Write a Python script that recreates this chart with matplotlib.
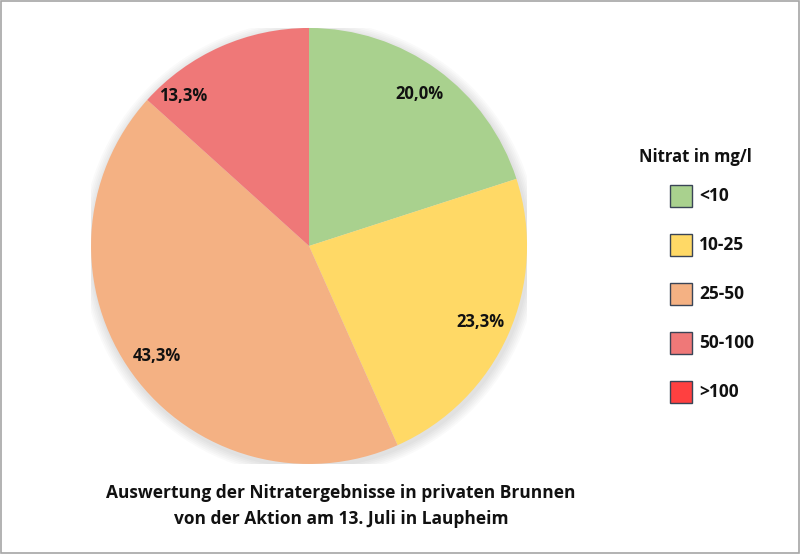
import numpy as np
import matplotlib
matplotlib.use('agg')
import matplotlib.pyplot as plt
from matplotlib.patches import Patch, Circle, Rectangle

plt.rcParams['font.family'] = ['Open Sans', 'DejaVu Sans']

# data
categories = ['<10', '10-25', '25-50', '50-100', '>100']
shares = [20.0, 23.3, 43.3, 13.3, 0.0]
colors = ['#A9D18E', '#FFD966', '#F4B183', '#EF7878', '#FF4040']
title = 'Auswertung der Nitratergebnisse in privaten Brunnen\nvon der Aktion am 13. Juli in Laupheim'
legend_title = 'Nitrat in mg/l'

fig = plt.figure(figsize=(8.0, 5.54), dpi=100)
ax = fig.add_axes([0.1138, 0.1625, 0.545, 0.787])

# soft shadow behind the pie
for k in range(6):
    ax.add_patch(Circle((0.006, -0.012), 1.0 + 0.008 * (k + 1), color='k',
                        alpha=0.018, lw=0, zorder=0))

vals = [v for v in shares if v > 0]
cols = [c for v, c in zip(shares, colors) if v > 0]
wedges, texts, autotexts = ax.pie(vals, colors=cols, startangle=90, counterclock=False,
                                  autopct=lambda p: ('%.1f%%' % p).replace('.', ','),
                                  pctdistance=0.86, radius=1.0,
                                  wedgeprops=dict(linewidth=0),
                                  textprops=dict(fontsize=12, fontweight='bold', color='#111111'))
for w in wedges:
    w.set_zorder(2)
for t in autotexts:
    t.set_zorder(3)

# small slice label sits off-centre (best fit), like the original
w = wedges[-1]
ang = np.deg2rad((w.theta1 + w.theta2) / 2 + 16)
autotexts[-1].set_position((0.90 * np.cos(ang), 0.90 * np.sin(ang)))

ax.set_xlim(-1.0, 1.0)
ax.set_ylim(-1.0, 1.0)
ax.set_aspect('equal')
ax.axis('off')

handles = [Patch(facecolor=c, edgecolor='#3A4456', linewidth=1.0) for c in colors]
leg = fig.legend(handles, categories, loc='upper left', bbox_to_anchor=(0.818, 0.695),
                 frameon=False, handlelength=1.27, handleheight=1.57,
                 labelspacing=1.56, handletextpad=0.4, borderpad=0.4,
                 prop=dict(size=12.5, weight='bold'))
for t in leg.get_texts():
    t.set_color('#111111')

fig.text(0.869, 0.717, legend_title, ha='center', va='center', fontsize=12,
         fontweight='bold', color='#111111')

fig.text(0.426, 0.0866, title, ha='center', va='center', fontsize=12.5,
         fontweight='bold', linespacing=1.6, color='#111111')

fig.patches.append(Rectangle((0.001, 0.0015), 0.998, 0.997, transform=fig.transFigure,
                             fill=False, edgecolor='#A6A6A6', linewidth=1.2))

fig.savefig('out.png', dpi=100, facecolor='white')
